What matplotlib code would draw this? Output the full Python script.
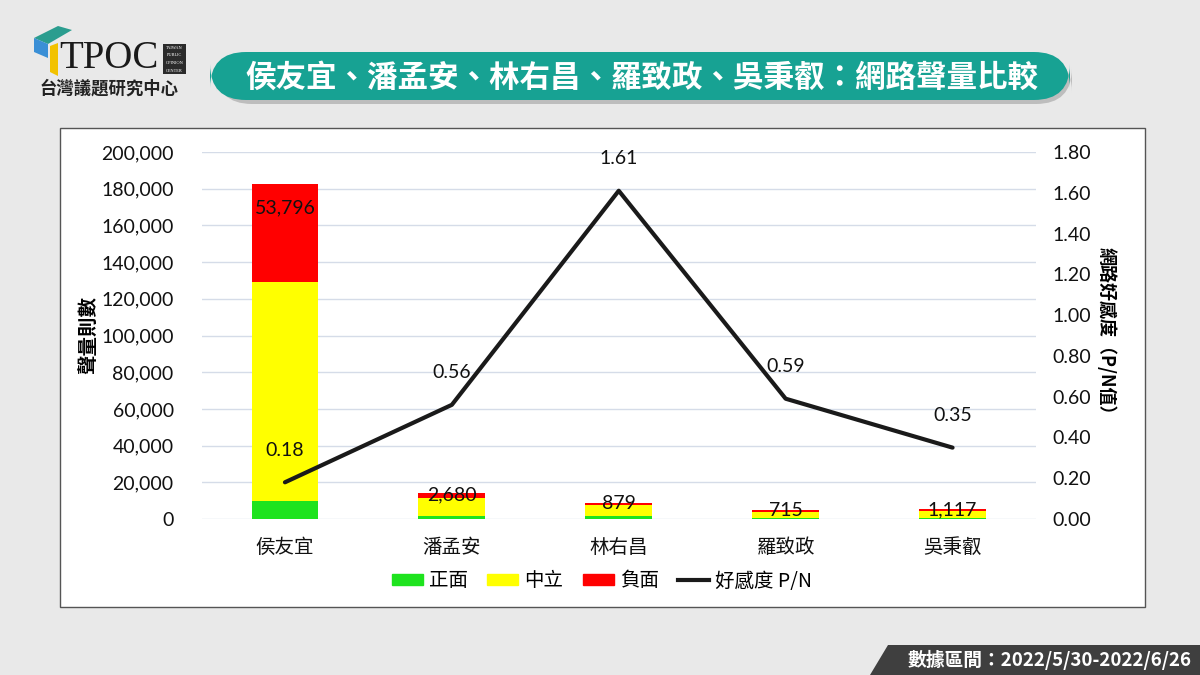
import matplotlib
matplotlib.use("Agg")
import matplotlib.pyplot as plt
from matplotlib.patches import FancyBboxPatch, Rectangle, Polygon
from matplotlib.lines import Line2D
import numpy as np

plt.rcParams['font.family'] = ['Lato', 'Noto Sans CJK TC', 'DejaVu Sans']

categories = ['侯友宜', '潘孟安', '林右昌', '羅致政', '吳秉叡']
positive = [9700, 1500, 1415, 422, 391]
neutral = [119300, 9800, 6300, 3650, 3800]
negative = [53796, 2680, 879, 715, 1117]
pn_ratio = [0.18, 0.56, 1.61, 0.59, 0.35]
neg_labels = ['53,796', '2,680', '879', '715', '1,117']
series_names = ['正面', '中立', '負面', '好感度 P/N']
title = '侯友宜、潘孟安、林右昌、羅致政、吳秉叡：網路聲量比較'
footer = '數據區間：2022/5/30-2022/6/26'

BG = '#e9e9e9'
GREEN = '#1ee31e'
YELLOW = '#ffff00'
RED = '#ff0000'
TEAL = '#17a293'
CJK = ['Noto Sans CJK TC', 'DejaVu Sans']

fig = plt.figure(figsize=(12, 6.75), dpi=100)
fig.patch.set_facecolor(BG)

def px(x, y):
    return x / 1200, 1 - y / 675

# white chart panel
x0, y0 = px(60, 607)
x1, y1 = px(1145, 128)
fig.patches.append(Rectangle((x0, y0), x1 - x0, y1 - y0, transform=fig.transFigure,
                             facecolor='white', edgecolor='#555555', linewidth=1.0, zorder=0))

# title bar shadow + box
sx0, sy0 = px(216, 104)
sx1, sy1 = px(1072, 56)
fig.patches.append(FancyBboxPatch((sx0, sy0), sx1 - sx0, sy1 - sy0, transform=fig.transFigure,
                                  boxstyle='round,pad=0,rounding_size=0.03', mutation_aspect=1.78,
                                  facecolor='#bdbdbd', edgecolor='none', zorder=1))
tx0, ty0 = px(210, 100)
tx1, ty1 = px(1070, 52)
fig.patches.append(FancyBboxPatch((tx0, ty0), tx1 - tx0, ty1 - ty0, transform=fig.transFigure,
                                  boxstyle='round,pad=0,rounding_size=0.03', mutation_aspect=1.78,
                                  facecolor=TEAL, edgecolor='none', zorder=2))
fig.text((tx0 + tx1) / 2 + 0.002, (ty0 + ty1) / 2 - 0.002, title, ha='center', va='center',
         color='white', fontsize=22, fontweight='bold', family=CJK, zorder=3)

# logo
def poly(points, color):
    pts = [px(a, b) for a, b in points]
    fig.patches.append(Polygon(pts, closed=True, transform=fig.transFigure,
                               facecolor=color, edgecolor='none', zorder=2))
poly([(34, 38), (58, 26), (72, 30), (48, 44)], '#2a9d8f')
poly([(34, 38), (48, 44), (48, 58), (34, 52)], '#3a8fd6')
poly([(50, 46), (58, 43), (58, 76), (50, 72)], '#f2c200')
fig.text(*px(59, 58), 'TPOC', ha='left', va='center', fontsize=28,
         family=['Liberation Serif'], color='#1a1a1a')
bx0, by0 = px(163, 74)
bx1, by1 = px(186, 44)
fig.patches.append(Rectangle((bx0, by0), bx1 - bx0, by1 - by0, transform=fig.transFigure,
                             facecolor='#2b2b2b', edgecolor='none', zorder=2))
for i, w in enumerate(['TAIWAN', 'PUBLIC', 'OPINION', 'CENTER']):
    fig.text(*px(174.5, 48 + i * 7.5), w, ha='center', va='center', fontsize=3.2,
             color='white', family=['Liberation Serif'], zorder=3)
fig.text(*px(109, 89), '台灣議題研究中心', ha='center', va='center', fontsize=12.5,
         fontweight='bold', family=CJK, color='#222222')

# footer
poly([(888, 645), (1200, 645), (1200, 675), (870, 675)], '#3f3f3f')
fig.text(*px(1192, 660), footer, ha='right', va='center', fontsize=13.5,
         fontweight='bold', color='white', family=CJK)

# main axes
l, b = px(201.5, 519)
r, t = px(1036, 152)
ax = fig.add_axes([l, b, r - l, t - b])
ax.set_zorder(3)
ax.patch.set_visible(False)
x = np.arange(len(categories))
w = 0.4
pos = np.array(positive)
neu = np.array(neutral)
neg = np.array(negative)
ax.bar(x, pos, w, color=GREEN, zorder=2, label=series_names[0])
ax.bar(x, neu, w, bottom=pos, color=YELLOW, zorder=2, label=series_names[1])
ax.bar(x, neg, w, bottom=pos + neu, color=RED, zorder=2, label=series_names[2])
for i in range(len(categories)):
    yb = pos[i] + neu[i]
    ax.text(x[i], yb + neg[i] * 0.75, neg_labels[i], ha='center', va='center',
            fontsize=14, color='#111111', zorder=5)
ax.set_xlim(-0.5, len(categories) - 0.5)
ax.set_ylim(0, 200000)
ax.set_yticks(np.arange(0, 200001, 20000))
ax.set_yticklabels([f'{v:,}' for v in range(0, 200001, 20000)], fontsize=14)
ax.set_xticks(x)
ax.set_xticklabels(categories, fontsize=14, family=CJK)
ax.tick_params(axis='both', length=0, colors='#111111')
ax.tick_params(axis='x', pad=13)
ax.tick_params(axis='y', pad=20)
ax.grid(axis='y', color='#d5dce8', linewidth=1, zorder=0)
ax.set_axisbelow(True)
for s in ax.spines.values():
    s.set_visible(False)
ax.set_ylabel('聲量則數', fontsize=14, fontweight='bold', family=CJK, labelpad=2)

ax2 = ax.twinx()
ax2.set_zorder(4)
ax2.patch.set_visible(False)
ax2.plot(x, pn_ratio, color='#1a1a1a', linewidth=3, zorder=4, solid_capstyle='round')
for i, v in enumerate(pn_ratio):
    ax2.annotate(f'{v:.2f}', (x[i], v), xytext=(0, 17), textcoords='offset points',
                 ha='center', va='bottom', fontsize=14, color='#111111')
ax2.set_ylim(0, 1.8)
ax2.set_yticks(np.arange(0, 1.81, 0.2))
ax2.set_yticklabels([f'{v:.2f}' for v in np.arange(0, 1.81, 0.2)], fontsize=14)
ax2.tick_params(axis='y', length=0, pad=12, colors='#111111')
for s in ax2.spines.values():
    s.set_visible(False)
ax2.set_ylabel('網路好感度（P/N值）', fontsize=13, fontweight='bold', family=CJK,
               rotation=-90, labelpad=18)

handles = [Rectangle((0, 0), 1, 1, color=GREEN), Rectangle((0, 0), 1, 1, color=YELLOW),
           Rectangle((0, 0), 1, 1, color=RED), Line2D([0], [0], color='#1a1a1a', linewidth=3)]
fig.legend(handles, series_names, loc='center', bbox_to_anchor=(px(602, 581)),
           ncol=4, frameon=False, prop={'family': CJK, 'size': 14},
           handlelength=1.6, handleheight=0.45, columnspacing=1.0, handletextpad=0.3)

fig.savefig('out.png', dpi=100, facecolor=BG)
